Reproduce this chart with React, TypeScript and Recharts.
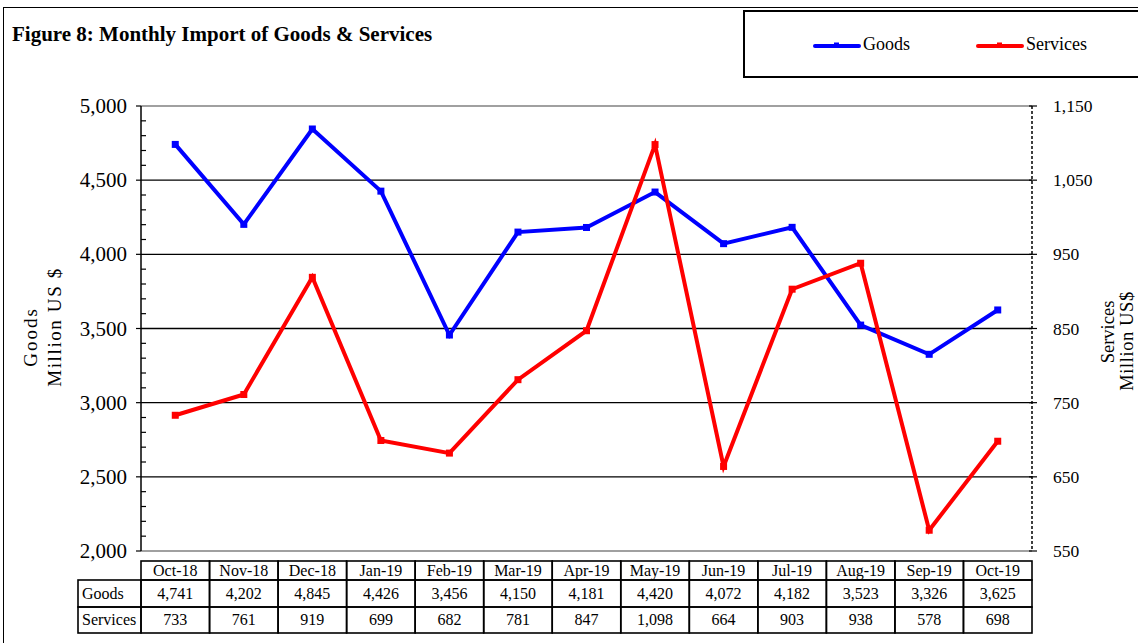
import React from 'react';
import { ComposedChart, Line, XAxis, YAxis, ReferenceLine } from 'recharts';

const categories = ['Oct-18', 'Nov-18', 'Dec-18', 'Jan-19', 'Feb-19', 'Mar-19', 'Apr-19', 'May-19', 'Jun-19', 'Jul-19', 'Aug-19', 'Sep-19', 'Oct-19'];
const goods = [4741, 4202, 4845, 4426, 3456, 4150, 4181, 4420, 4072, 4182, 3523, 3326, 3625];
const services = [733, 761, 919, 699, 682, 781, 847, 1098, 664, 903, 938, 578, 698];
const seriesNames = ['Goods', 'Services'];
const seriesColors = ['#0000FF', '#FF0000'];
const goodsTicks = [2000, 2100, 2200, 2300, 2400, 2500, 2600, 2700, 2800, 2900, 3000, 3100, 3200, 3300, 3400, 3500, 3600, 3700, 3800, 3900, 4000, 4100, 4200, 4300, 4400, 4500, 4600, 4700, 4800, 4900, 5000];
const goodsGrid = [2500, 3000, 3500, 4000, 4500];
const servicesTicks = [550, 650, 750, 850, 950, 1050, 1150];
const title = 'Figure 8: Monthly Import of Goods & Services';

const data = categories.map((c, i) => ({ month: c, goods: goods[i], services: services[i] }));

const FONT = '"Liberation Serif", "Times New Roman", serif';
const COL_W = 891 / 13;
const fmt = (v: number) => v.toLocaleString('en-US');

const LeftTick = (props: any) => {
  const { x, y, payload } = props;
  const major = payload.value % 500 === 0;
  return (
    <g>
      <line x1={major ? x - 5 : x} x2={major ? x : x + 5} y1={y} y2={y} stroke="#000" strokeWidth={1.2} />
      {major && (
        <text x={x - 14} y={y} dy={7} textAnchor="end" fontSize={21} fontFamily={FONT} fill="#000">
          {fmt(payload.value)}
        </text>
      )}
    </g>
  );
};

const RightTick = (props: any) => {
  const { x, y, payload } = props;
  return (
    <g>
      <line x1={x - 3} x2={x + 5} y1={y} y2={y} stroke="#000" strokeWidth={1.2} />
      <text x={x + 21} y={y} dy={6} textAnchor="start" fontSize={17.5} fontFamily={FONT} fill="#000">
        {fmt(payload.value)}
      </text>
    </g>
  );
};

const TableTick = (props: any) => {
  const { x, y, payload } = props;
  const i = payload.index;
  const left = x - COL_W / 2;
  const hTop = y + 10;
  const gTop = y + 29;
  const sTop = y + 56;
  const bot = y + 82;
  const sw = 1.6;
  return (
    <g fontFamily={FONT} fontSize={16} fill="#000">
      <rect x={left} y={hTop} width={COL_W} height={gTop - hTop} fill="none" stroke="#000" strokeWidth={sw} />
      <rect x={left} y={gTop} width={COL_W} height={sTop - gTop} fill="none" stroke="#000" strokeWidth={sw} />
      <rect x={left} y={sTop} width={COL_W} height={bot - sTop} fill="none" stroke="#000" strokeWidth={sw} />
      <text x={x} y={hTop + 15} textAnchor="middle">{categories[i]}</text>
      <text x={x} y={gTop + 19} textAnchor="middle">{fmt(goods[i])}</text>
      <text x={x} y={sTop + 18} textAnchor="middle">{fmt(services[i])}</text>
      {i === 0 && (
        <g>
          <rect x={left - 63} y={gTop} width={63} height={sTop - gTop} fill="none" stroke="#000" strokeWidth={sw} />
          <rect x={left - 63} y={sTop} width={63} height={bot - sTop} fill="none" stroke="#000" strokeWidth={sw} />
          <text x={left - 59} y={gTop + 19} textAnchor="start">{seriesNames[0]}</text>
          <text x={left - 59} y={sTop + 18} textAnchor="start">{seriesNames[1]}</text>
        </g>
      )}
    </g>
  );
};

const squareDot = (color: string) => (props: any) => {
  const { cx, cy, index } = props;
  return <rect key={`d-${color}-${index}`} x={cx - 3.5} y={cy - 3.5} width={7} height={7} fill={color} />;
};

export default function App() {
  return (
    <div style={{ position: 'absolute', left: 0, top: 0, width: 1138, height: 643, background: '#fff', overflow: 'hidden' }}>
      <div style={{ position: 'absolute', left: 3, top: 7, width: 1140, height: 640, border: '1.5px solid #000', boxSizing: 'border-box' }} />
      <div style={{ position: 'absolute', left: 12, top: 22, fontFamily: FONT, fontWeight: 'bold', fontSize: 21, color: '#000', whiteSpace: 'nowrap' }}>
        {title}
      </div>
      <div style={{ position: 'absolute', left: 743, top: 10, width: 400, height: 68, border: '2px solid #000', boxSizing: 'border-box' }}>
        {seriesNames.map((n, k) => (
          <div key={n} style={{ position: 'absolute', left: k === 0 ? 68 : 231, top: 22, display: 'flex', alignItems: 'center', fontFamily: FONT, fontSize: 18 }}>
            <svg width={48} height={10} style={{ display: 'block' }}>
              <line x1={2} x2={46} y1={6} y2={6} stroke={seriesColors[k]} strokeWidth={4} strokeLinecap="round" />
              <rect x={21} y={2.5} width={5} height={5} fill={seriesColors[k]} />
            </svg>
            <span style={{ marginLeft: 2 }}>{n}</span>
          </div>
        ))}
      </div>
      <svg width={1138} height={643} style={{ position: 'absolute', left: 0, top: 0, pointerEvents: 'none' }}>
        <g fontFamily={FONT} fill="#000">
          <text transform="translate(37,337) rotate(-90)" textAnchor="middle" fontSize={19} letterSpacing={2}>Goods</text>
          <text transform="translate(61,327) rotate(-90)" textAnchor="middle" fontSize={19} letterSpacing={1.6}>Million US $</text>
          <text transform="translate(1114,332) rotate(-90)" textAnchor="middle" fontSize={18.5}>Services</text>
          <text transform="translate(1133,341) rotate(-90)" textAnchor="middle" fontSize={18.5} letterSpacing={0.6}>Million US$</text>
        </g>
      </svg>
      <div style={{ position: 'absolute', left: 0, top: 0 }}>
        <ComposedChart width={1138} height={643} data={data} margin={{ top: 106, right: 46, bottom: 10, left: 81 }}>
          <XAxis
            dataKey="month"
            interval={0}
            height={82}
            tickSize={0}
            tickMargin={0}
            padding={{ left: COL_W / 2, right: COL_W / 2 }}
            tick={<TableTick />}
            axisLine={{ stroke: '#808080', strokeWidth: 1.5 }}
            tickLine={false}
          />
          <YAxis
            yAxisId="left"
            orientation="left"
            width={60}
            domain={[2000, 5000]}
            ticks={goodsTicks}
            interval={0}
            tickSize={0}
            tickMargin={0}
            tick={<LeftTick />}
            tickLine={false}
            axisLine={{ stroke: '#000', strokeWidth: 1.5 }}
          />
          <YAxis
            yAxisId="right"
            orientation="right"
            width={60}
            domain={[550, 1150]}
            ticks={servicesTicks}
            interval={0}
            tickSize={0}
            tickMargin={0}
            tick={<RightTick />}
            tickLine={false}
            axisLine={{ stroke: '#000', strokeWidth: 1.5, strokeDasharray: '3 2' }}
          />
          {goodsGrid.map((v) => (
            <ReferenceLine key={v} yAxisId="left" y={v} stroke="#000" strokeWidth={1.3} />
          ))}
          <ReferenceLine yAxisId="left" y={5000} stroke="#808080" strokeWidth={1.5} />
          <Line
            yAxisId="left"
            dataKey="goods"
            name={seriesNames[0]}
            stroke={seriesColors[0]}
            strokeWidth={4}
            dot={squareDot(seriesColors[0])}
            isAnimationActive={false}
          />
          <Line
            yAxisId="right"
            dataKey="services"
            name={seriesNames[1]}
            stroke={seriesColors[1]}
            strokeWidth={4}
            dot={squareDot(seriesColors[1])}
            isAnimationActive={false}
          />
        </ComposedChart>
      </div>
    </div>
  );
}
